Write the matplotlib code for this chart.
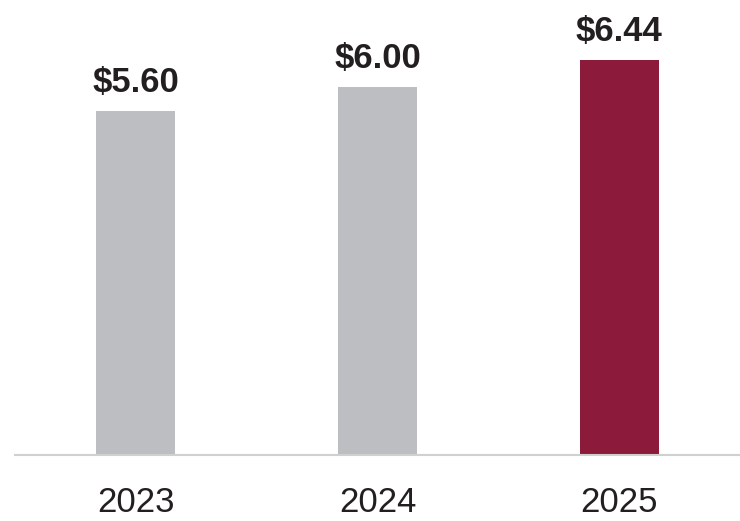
import matplotlib
matplotlib.use('Agg')
import matplotlib.pyplot as plt

# data
years = ['2023', '2024', '2025']
values = [5.60, 6.00, 6.44]
labels = ['$5.60', '$6.00', '$6.44']
colors = ['#bdbec1', '#bdbec1', '#8b1a3b']

plt.rcParams['font.family'] = ['Liberation Sans', 'DejaVu Sans']

fig = plt.figure(figsize=(7.4, 5.21), dpi=100)
ax = fig.add_axes([15 / 740, 66 / 521, 725 / 740, 455 / 521])

x = range(len(years))
ax.bar(x, values, width=0.326, color=colors)

for xi, v, lab in zip(x, values, labels):
    ax.annotate(lab, (xi, v), xytext=(0, 13.5), textcoords='offset points',
                ha='center', va='baseline', fontsize=25, fontweight='bold',
                color='#231f20')

ax.set_xlim(-0.5, 2.5)
ax.set_ylim(0, 7.41)
ax.set_xticks(list(x))
ax.set_xticklabels(years, fontsize=25, color='#231f20')
ax.tick_params(axis='x', length=0, pad=22)
ax.set_yticks([])

for side in ['top', 'right', 'left']:
    ax.spines[side].set_visible(False)
ax.spines['bottom'].set_color('#d0d0d0')
ax.spines['bottom'].set_linewidth(1.5)

fig.savefig('out.png', dpi=100)
